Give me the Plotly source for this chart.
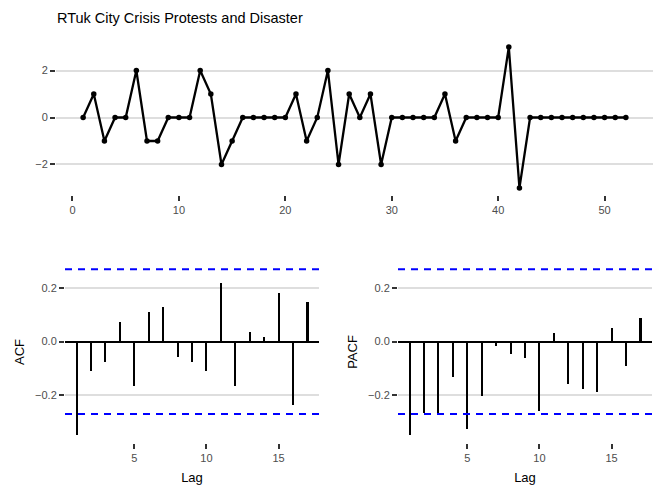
import plotly.graph_objects as go

# series (t = 1..52)
t = list(range(1, 53))
values = [0, 1, -1, 0, 0, 2, -1, -1, 0, 0, 0, 2, 1, -2, -1, 0, 0, 0, 0, 0,
          1, -1, 0, 2, -2, 1, 0, 1, -2, 0, 0, 0, 0, 0, 1, -1, 0, 0, 0, 0,
          3, -3, 0, 0, 0, 0, 0, 0, 0, 0, 0, 0]

lags = list(range(1, 18))
acf_vals = [-0.350, -0.110, -0.075, 0.073, -0.166, 0.110, 0.129, -0.056, -0.075,
            -0.111, 0.221, -0.166, 0.036, 0.018, 0.184, -0.240, 0.148]
pacf_vals = [-0.350, -0.269, -0.269, -0.134, -0.328, -0.203, -0.015, -0.045, -0.063,
             -0.261, 0.033, -0.158, -0.179, -0.191, 0.050, -0.090, 0.089]
ci = 0.2718

title = "RTuk City Crisis Protests and Disaster"

FONT = "Liberation Sans"
TICK_COL = "#4d4d4d"
GRID_COL = "#dedede"

# the page has an 8px body margin, so the figure is a bit smaller than the window
OFF = 8
W, H = 664 - OFF, 498 - OFF


def px_x(a, b):
    return [(a - OFF) / W, (b - OFF) / W]


def px_y(top, bottom):
    return [1 - (bottom - OFF) / H, 1 - (top - OFF) / H]


fig = go.Figure()

fig.add_trace(go.Scatter(x=t, y=values, mode="lines+markers",
                         line=dict(color="black", width=2.3),
                         marker=dict(color="black", size=5.5),
                         xaxis="x", yaxis="y", showlegend=False))

fig.add_trace(go.Bar(x=lags, y=acf_vals, width=0.145, marker=dict(color="black", line_width=0),
                     xaxis="x2", yaxis="y2", showlegend=False))
fig.add_trace(go.Bar(x=lags, y=pacf_vals, width=0.145, marker=dict(color="black", line_width=0),
                     xaxis="x3", yaxis="y3", showlegend=False))

shapes = []
for ax, yref in [("x2", "y2"), ("x3", "y3")]:
    for c in [ci, -ci]:
        shapes.append(dict(type="line", xref=ax + " domain", yref=yref,
                           x0=0, x1=1, y0=c, y1=c,
                           line=dict(color="blue", width=2, dash="7px,6px")))

tick_common = dict(ticks="outside", ticklen=5, tickwidth=2, tickcolor="#333333",
                   tickfont=dict(size=11, color=TICK_COL, family=FONT),
                   showline=False)

acf_y = dict(range=[-0.381, 0.303], tickvals=[-0.2, 0, 0.2], tickformat=".1f",
             showgrid=True, gridcolor=GRID_COL, gridwidth=1.5,
             zeroline=True, zerolinecolor="black", zerolinewidth=2, **tick_common)
lag_x = dict(range=[0.2, 17.8], tickvals=[5, 10, 15], showgrid=False, zeroline=False,
             title=dict(text="Lag", font=dict(size=13, color="black"), standoff=9),
             **tick_common)

fig.update_layout(
    width=W, height=H,
    margin=dict(l=0, r=0, t=0, b=0),
    plot_bgcolor="white", paper_bgcolor="white",
    font=dict(family=FONT, color="black"),
    bargap=0,
    title=dict(text=title, x=(57 - OFF) / W, xanchor="left",
               y=1 - (18 - OFF) / H, yanchor="middle",
               font=dict(size=14.5, color="black", family=FONT)),
    shapes=shapes,
    xaxis=dict(domain=px_x(56, 653), anchor="y", range=[-1.55, 54.55],
               tickvals=[0, 10, 20, 30, 40, 50], showgrid=False, zeroline=False,
               **tick_common),
    yaxis=dict(domain=px_y(40, 195), anchor="x", range=[-3.3, 3.3],
               tickvals=[-2, 0, 2], showgrid=True, gridcolor=GRID_COL, gridwidth=1.5,
               zeroline=False, **tick_common),
    xaxis2=dict(domain=px_x(65, 319), anchor="y2", **lag_x),
    yaxis2=dict(domain=px_y(261, 443), anchor="x2",
                title=dict(text="ACF", font=dict(size=13, color="black"), standoff=7),
                **acf_y),
    xaxis3=dict(domain=px_x(398, 652), anchor="y3", **lag_x),
    yaxis3=dict(domain=px_y(261, 443), anchor="x3",
                title=dict(text="PACF", font=dict(size=13, color="black"), standoff=7),
                **acf_y),
)

fig.write_html("out.html")
